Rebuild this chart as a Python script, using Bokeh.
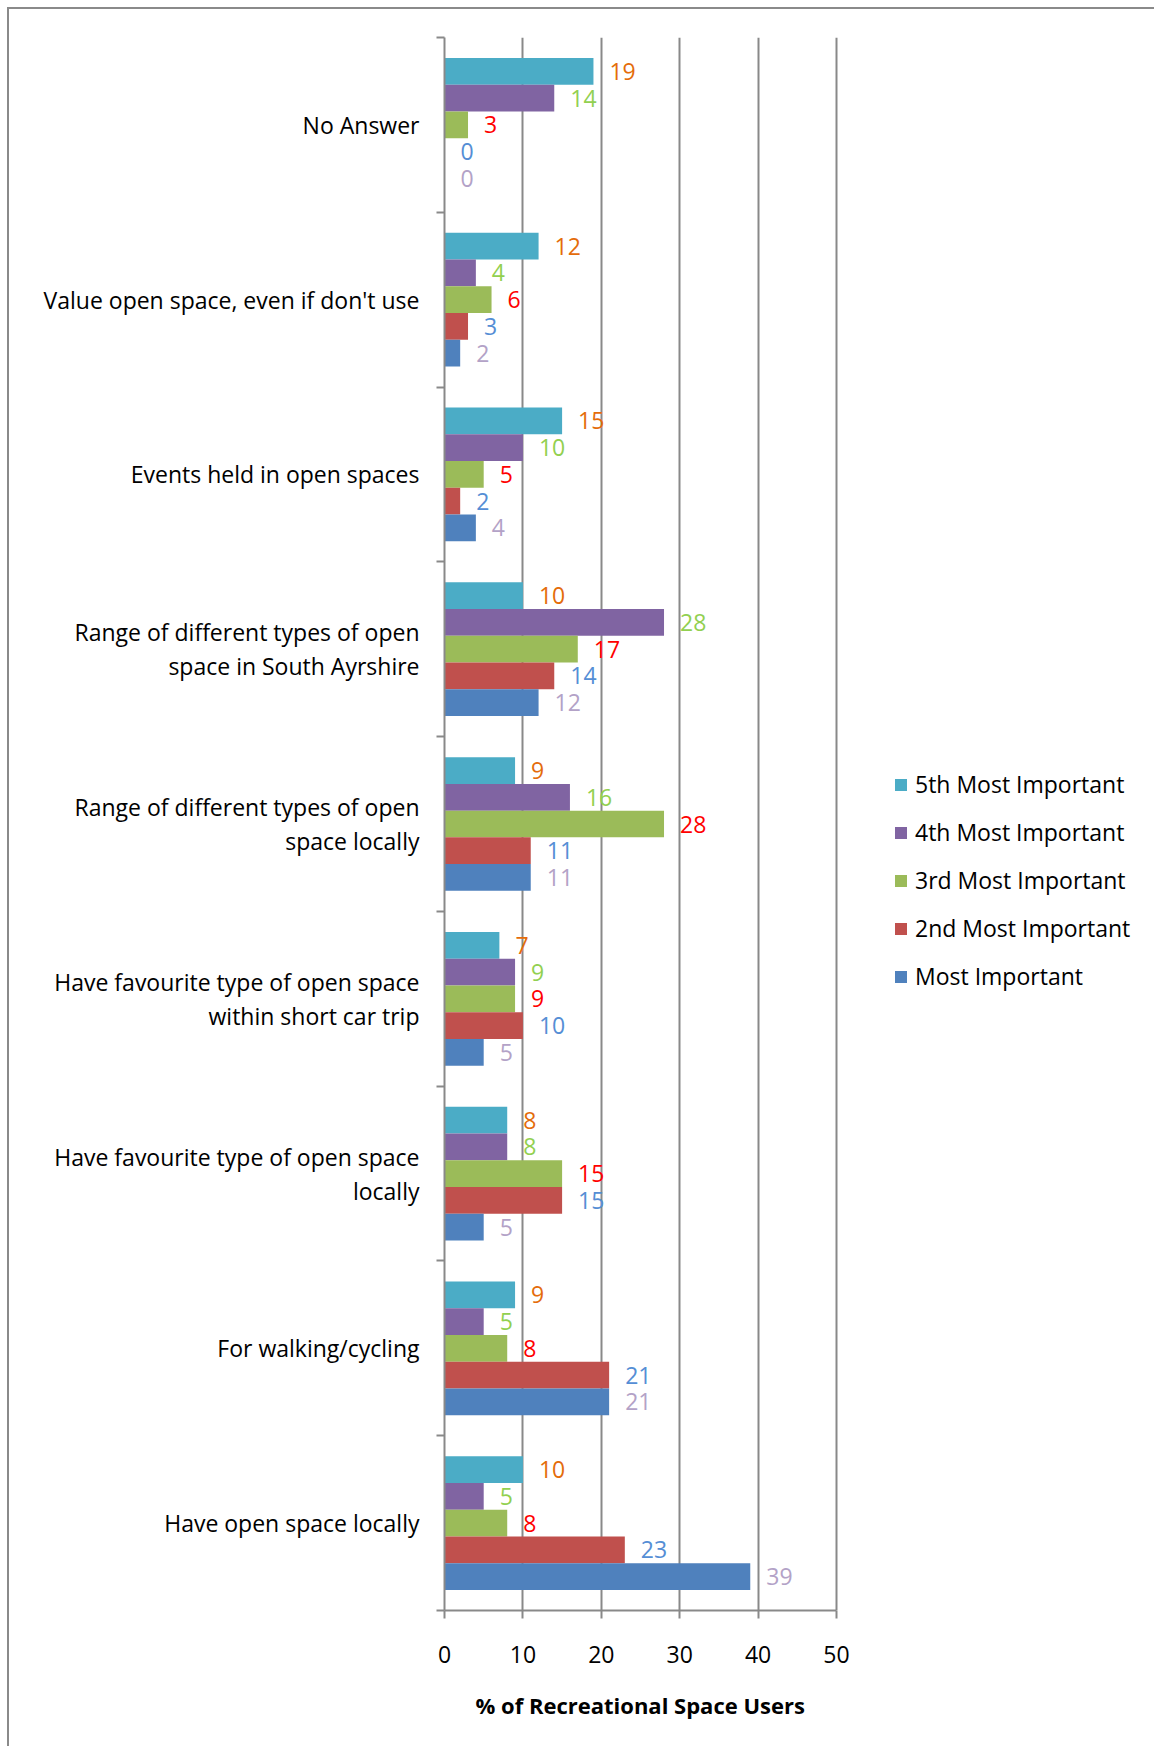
from bokeh.plotting import figure
from bokeh.models import (ColumnDataSource, Range1d, FixedTicker, LabelSet,
                          Legend, LegendItem, Title)
from bokeh.core.properties import value
from bokeh.embed import file_html
from bokeh.resources import INLINE

# ---------------- data (top to bottom as in the chart) ----------------
categories = [
    "No Answer",
    "Value open space, even if don't use",
    "Events held in open spaces",
    "Range of different types of open\nspace in South Ayrshire",
    "Range of different types of open\nspace locally",
    "Have favourite type of open space\nwithin short car trip",
    "Have favourite type of open space\nlocally",
    "For walking/cycling",
    "Have open space locally",
]
fifth_most = [19, 12, 15, 10, 9, 7, 8, 9, 10]
fourth_most = [14, 4, 10, 28, 16, 9, 8, 5, 5]
third_most = [3, 6, 5, 17, 28, 9, 15, 8, 8]
second_most = [0, 3, 2, 14, 11, 10, 15, 21, 23]
most_important = [0, 2, 4, 12, 11, 5, 5, 21, 39]
series_names = ["5th Most Important", "4th Most Important", "3rd Most Important",
                "2nd Most Important", "Most Important"]
x_ticks = [0, 10, 20, 30, 40, 50]
x_title = "% of  Recreational Space Users"

# ---------------- styles / layout ----------------
bar_colors = ["#4BACC6", "#8064A2", "#9BBB59", "#C0504D", "#4F81BD"]
label_colors = ["#E46C0A", "#92D050", "#FF0000", "#558ED5", "#B3A2C7"]
FONT = "Open Sans"
GRID = "#898989"
BAR_H = 0.153
W, H = 1154, 1746
LEFT, RIGHT, TOP, BOTTOM = 444, 4, 37, 136
AXIS_PX = 392            # pixel length of the 0..50 axis
frame_w = W - LEFT - RIGHT
x_max = x_ticks[-1]
x_end = x_max * frame_w / AXIS_PX   # frame extends right to host the legend

series_values = [fifth_most, fourth_most, third_most, second_most, most_important]
n = len(categories)
cat_pos = [n - 1 - i for i in range(n)]

p = figure(width=W, height=H,
           x_range=Range1d(0, x_end), y_range=Range1d(-0.5, n - 0.5),
           output_backend="svg", toolbar_location=None,
           min_border_left=LEFT, min_border_right=RIGHT,
           min_border_top=TOP, min_border_bottom=BOTTOM)
# outer chart-area border (left and top edges) drawn behind a transparent border fill
p.styles = {
    "background": "linear-gradient(#8a8a8a, #8a8a8a) 7px 7px / 2px 100% no-repeat, "
                  "linear-gradient(#8a8a8a, #8a8a8a) 7px 7px / 100% 2px no-repeat, white"
}
p.outline_line_color = None
p.background_fill_color = "white"
p.border_fill_alpha = 0

renderers = []
for k, (name, vals) in enumerate(zip(series_names, series_values)):
    ys = [c + (2 - k) * BAR_H for c in cat_pos]
    src = ColumnDataSource(dict(y=ys, v=vals, t=[str(v) for v in vals]))
    r = p.hbar(y="y", left=0, right="v", height=BAR_H, source=src,
               fill_color=bar_colors[k], line_color=None)
    renderers.append((name, r))
    labels = LabelSet(x="v", y="y", text="t", source=src, x_offset=16,
                      text_align="left", text_baseline="middle",
                      text_color=value(label_colors[k]), text_font=value(FONT),
                      text_font_size=value("23px"))
    p.add_layout(labels)

# grid
p.xgrid.ticker = FixedTicker(ticks=x_ticks)
p.xgrid.grid_line_color = GRID
p.xgrid.grid_line_width = 2
p.ygrid.grid_line_color = None

# x axis
xa = p.xaxis[0]
xa.ticker = FixedTicker(ticks=x_ticks)
xa.bounds = (x_ticks[0], x_max)
xa.axis_line_color = GRID
xa.axis_line_width = 2
xa.major_tick_line_color = GRID
xa.major_tick_line_width = 2
xa.major_tick_out = 8
xa.major_tick_in = 0
xa.minor_tick_line_color = None
xa.major_label_text_font = FONT
xa.major_label_text_font_size = "23px"
xa.major_label_text_color = "black"
xa.major_label_standoff = 27

# axis title, centred under the 0..50 axis (not under the wider frame)
p.add_layout(Title(text=x_title, align="left", offset=31, standoff=44,
                   text_font=FONT, text_font_size="22px", text_font_style="bold",
                   text_color="black"), "below")

# y axis (category labels at centres, tick marks at group boundaries)
ya = p.yaxis[0]
ya.ticker = FixedTicker(ticks=cat_pos, minor_ticks=[c - 0.5 for c in range(n + 1)])
ya.major_label_overrides = {c: lab for c, lab in zip(cat_pos, categories)}
ya.axis_line_color = GRID
ya.axis_line_width = 2
ya.major_tick_line_color = None
ya.major_tick_out = 0
ya.major_tick_in = 0
ya.minor_tick_line_color = GRID
ya.minor_tick_line_width = 2
ya.minor_tick_out = 8
ya.minor_tick_in = 0
ya.major_label_standoff = 17
ya.major_label_text_font = FONT
ya.major_label_text_font_size = "23px"
ya.major_label_text_color = "black"
ya.major_label_text_line_height = 1.06

legend = Legend(items=[LegendItem(label=nm, renderers=[r]) for nm, r in renderers],
                location=(449, 618))
legend.label_text_font = FONT
legend.label_text_font_size = "23px"
legend.label_text_color = "black"
legend.glyph_width = 15
legend.glyph_height = 15
legend.label_standoff = 7
legend.spacing = 16
legend.padding = 0
legend.margin = 0
legend.border_line_color = None
legend.background_fill_alpha = 0
p.add_layout(legend)

open("out.html", "w").write(file_html(p, INLINE))
